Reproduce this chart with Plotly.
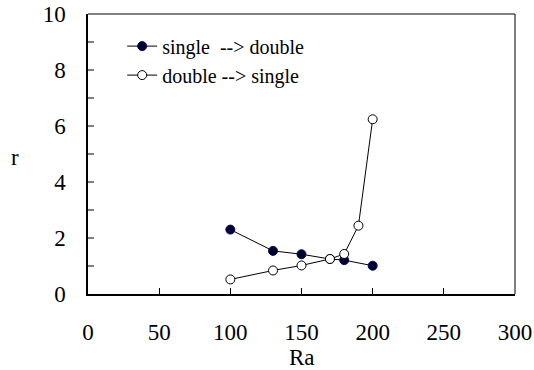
import plotly.graph_objects as go

ra_sd = [100, 130, 150, 170, 180, 200]
r_sd = [2.3, 1.54, 1.42, 1.25, 1.21, 1.01]
ra_ds = [100, 130, 150, 170, 180, 190, 200]
r_ds = [0.52, 0.84, 1.02, 1.25, 1.43, 2.44, 6.24]

FONT = "Times New Roman, Liberation Serif, DejaVu Serif, serif"

fig = go.Figure()
fig.add_trace(go.Scatter(
    x=ra_sd, y=r_sd, mode="lines+markers", name="single  --> double",
    line=dict(color="black", width=1),
    marker=dict(symbol="circle", size=9, color="#000022", line=dict(color="#000080", width=1)),
    legendgroup="a",
))
fig.add_trace(go.Scatter(
    x=ra_ds, y=r_ds, mode="lines+markers", name="double --> single",
    line=dict(color="black", width=1),
    marker=dict(symbol="circle", size=9, color="white", line=dict(color="black", width=1)),
    legendgroup="b",
))

fig.update_layout(
    template="none",
    width=534, height=370,
    margin=dict(l=88, r=19, t=14, b=76, autoexpand=False),
    paper_bgcolor="white", plot_bgcolor="white",
    font=dict(family=FONT, size=23, color="black"),
    showlegend=True,
    legend=dict(x=0.08, y=0.955, xanchor="left", yanchor="top",
                bgcolor="rgba(0,0,0,0)", font=dict(size=20, family=FONT),
                itemwidth=30, tracegroupgap=0),
    xaxis=dict(range=[0, 300], tickvals=[0, 50, 100, 150, 200, 250, 300],
               ticks="inside", ticklen=6, tickcolor="black", showgrid=False,
               zeroline=False, showline=True, linecolor="black", linewidth=1.5,
               mirror=False, ticklabelstandoff=17, automargin=False,
               tickfont=dict(family=FONT, size=23)),
    yaxis=dict(range=[0, 10], tickvals=[0, 2, 4, 6, 8, 10],
               ticks="", showgrid=False, zeroline=False,
               showline=True, linecolor="black", linewidth=1.5,
               ticklabelstandoff=16, automargin=False,
               tickfont=dict(family=FONT, size=23)),
    shapes=[
        dict(type="line", xref="paper", yref="paper", x0=0, x1=1, y0=1, y1=1,
             line=dict(color="black", width=1)),
        dict(type="line", xref="paper", yref="paper", x0=1, x1=1, y0=0, y1=1,
             line=dict(color="black", width=1)),
    ] + [
        dict(type="line", xref="paper", yref="y", x0=0, x1=0.014, y0=v, y1=v,
             line=dict(color="black", width=1)) for v in range(1, 10)
    ],
    annotations=[
        dict(text="Ra", xref="paper", yref="paper", x=0.501, y=-0.228, yanchor="middle",
             showarrow=False, font=dict(size=23, family=FONT)),
        dict(text="r", xref="paper", yref="paper", x=-0.171, y=0.489, xanchor="center",
             yanchor="middle", showarrow=False, font=dict(size=23, family=FONT)),
    ],
)

fig.write_html("out.html", post_script="document.body.style.margin='0';",
               config={"displayModeBar": False})
